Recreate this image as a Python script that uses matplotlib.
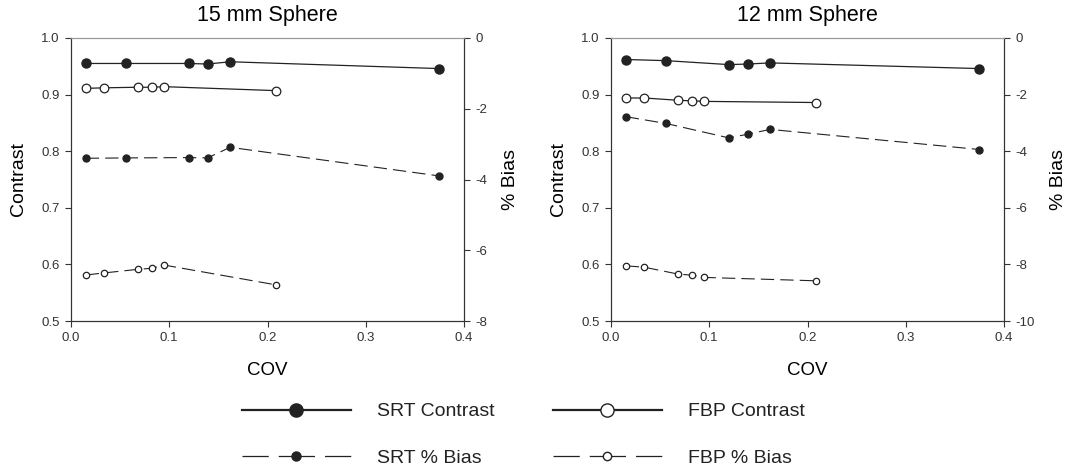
import matplotlib
matplotlib.use("Agg")
import matplotlib.pyplot as plt
from matplotlib.lines import Line2D

plt.rcParams['font.family'] = ['Liberation Sans', 'DejaVu Sans']
plt.rcParams['axes.unicode_minus'] = False

# COV values (same for both spheres)
cov_srt = [0.015, 0.056, 0.120, 0.139, 0.162, 0.375]
cov_fbp = [0.015, 0.034, 0.068, 0.082, 0.095, 0.209]

# 15 mm sphere
srt_con_15 = [0.955, 0.955, 0.955, 0.954, 0.958, 0.946]
fbp_con_15 = [0.911, 0.912, 0.913, 0.913, 0.914, 0.907]
srt_bias_15 = [-3.40, -3.39, -3.38, -3.39, -3.09, -3.90]
fbp_bias_15 = [-6.70, -6.64, -6.54, -6.51, -6.42, -6.98]

# 12 mm sphere
srt_con_12 = [0.962, 0.960, 0.953, 0.954, 0.956, 0.946]
fbp_con_12 = [0.894, 0.894, 0.890, 0.889, 0.888, 0.886]
srt_bias_12 = [-2.78, -3.02, -3.53, -3.40, -3.23, -3.94]
fbp_bias_12 = [-8.05, -8.10, -8.34, -8.38, -8.46, -8.58]

titles = ["15 mm Sphere", "12 mm Sphere"]
bias_ticks = [[-8, -6, -4, -2, 0], [-10, -8, -6, -4, -2, 0]]

panels = [
    (srt_con_15, fbp_con_15, srt_bias_15, fbp_bias_15),
    (srt_con_12, fbp_con_12, srt_bias_12, fbp_bias_12),
]

fig = plt.figure(figsize=(10.66, 4.75), dpi=100)
W, H = 1066, 475
lefts = [71, 611]
dk = '#222222'
dash = (12, 5.5)

for (sc, fc, sb, fb), title, bt, lx in zip(panels, titles, bias_ticks, lefts):
    ax = fig.add_axes([lx / W, 1 - 321 / H, 393 / W, 283 / H])
    ax2 = ax.twinx()
    ax.plot(cov_srt, sc, '-', color=dk, lw=0.9, marker='o', ms=6.5,
            mfc=dk, mec=dk)
    ax.plot(cov_fbp, fc, '-', color=dk, lw=0.9, marker='o', ms=6.2,
            mfc='white', mec=dk, mew=0.9)
    ax2.plot(cov_srt, sb, color=dk, lw=0.8, dashes=dash, marker='o', ms=5,
             mfc=dk, mec=dk)
    ax2.plot(cov_fbp, fb, color=dk, lw=0.8, dashes=dash, marker='o', ms=4.6,
             mfc='white', mec=dk, mew=0.9)
    ax.set_xlim(0, 0.4)
    ax.set_ylim(0.5, 1.0)
    ax2.set_ylim(bt[0], bt[-1])
    ax2.set_yticks(bt)
    ax.set_xticks([0.0, 0.1, 0.2, 0.3, 0.4])
    ax.set_yticks([0.5, 0.6, 0.7, 0.8, 0.9, 1.0])
    ax.set_title(title, fontsize=15.5, pad=12.5)
    ax.set_xlabel("COV", fontsize=13.5, labelpad=13)
    ax.set_ylabel("Contrast", fontsize=14, labelpad=10)
    ax2.set_ylabel("% Bias", fontsize=14, labelpad=11)
    for a in (ax, ax2):
        a.tick_params(direction='out', length=4, width=0.8, labelsize=9.5,
                      colors='#333333', pad=4)
        for s in a.spines.values():
            s.set_linewidth(0.8)
            s.set_color('#333333')
    ax.spines['top'].set_color('#999999')
    ax2.spines['top'].set_color('#999999')

leg_dash = (21, 8, 29, 8, 21, 8)
srt_h = [Line2D([], [], color=dk, lw=1.6, marker='o', ms=9.5, mfc=dk, mec=dk),
         Line2D([], [], color=dk, lw=0.9, dashes=leg_dash, marker='o', ms=6.5,
                mfc=dk, mec=dk)]
fbp_h = [Line2D([], [], color=dk, lw=1.6, marker='o', ms=9.5, mfc='white', mec=dk),
         Line2D([], [], color=dk, lw=0.9, dashes=leg_dash, marker='o', ms=6,
                mfc='white', mec=dk)]
srt_labels = ["SRT Contrast", "SRT % Bias"]
fbp_labels = ["FBP Contrast", "FBP % Bias"]

for hs, ls, x0 in [(srt_h, srt_labels, 242), (fbp_h, fbp_labels, 553)]:
    leg = fig.legend(hs, ls, loc='center left', bbox_to_anchor=(x0 / W, 1 - 435 / H),
                     frameon=False, fontsize=14, handlelength=5.6, handletextpad=1.35,
                     labelspacing=1.5, borderpad=0, borderaxespad=0)
    for t in leg.get_texts():
        t.set_color('#222222')

fig.savefig("out.png", dpi=100)
